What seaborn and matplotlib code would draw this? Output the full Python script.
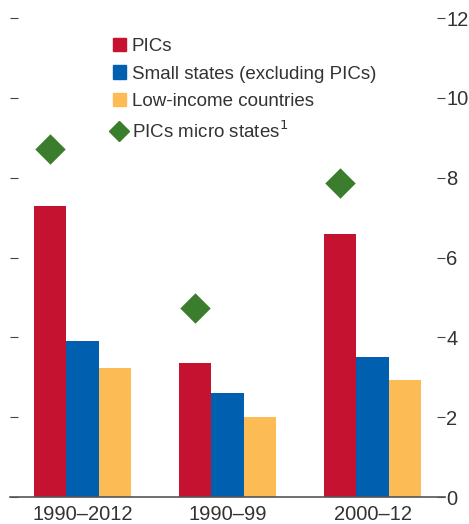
import numpy as np
import pandas as pd
import seaborn as sns
import matplotlib.pyplot as plt
from matplotlib.lines import Line2D
from matplotlib.patches import Patch

# data
periods = ["1990–2012", "1990–99", "2000–12"]
pics = [7.3, 3.35, 6.6]
small_states = [3.9, 2.6, 3.5]
low_income = [3.22, 2.0, 2.92]
micro_states = [8.72, 4.74, 7.88]

series_names = ["PICs", "Small states (excluding PICs)", "Low-income countries"]
colors = ["#c41230", "#0060af", "#fdbb55"]
diamond_color = "#3a7d2c"

df = pd.DataFrame({
    "period": periods * 3,
    "value": pics + small_states + low_income,
    "series": [series_names[0]] * 3 + [series_names[1]] * 3 + [series_names[2]] * 3,
})

sns.set_style("white")
plt.rcParams["font.family"] = ["Liberation Sans Narrow", "Liberation Sans", "DejaVu Sans"]

fig = plt.figure(figsize=(4.69, 5.24), dpi=100)
ax = fig.add_axes([0.021, 0.0515, 0.928, 0.914])

sns.barplot(data=df, x="period", y="value", hue="series", hue_order=series_names,
            palette=colors, width=0.67, saturation=1, linewidth=0, ax=ax, legend=False)

# diamonds sit on the PICs bars
xs = [b.get_x() + b.get_width() / 2 for b in ax.containers[0]]
ax.scatter(xs, micro_states, marker="D", s=240, color=diamond_color, zorder=5, linewidths=0)

ax.set_xlim(-0.5, 2.5)
ax.set_ylim(0, 12)
ax.set_yticks(np.arange(0, 13, 2))
ax.set_xlabel("")
ax.set_ylabel("")

for s in ["top", "left", "right"]:
    ax.spines[s].set_visible(False)
ax.spines["bottom"].set_color("#555555")
ax.spines["bottom"].set_linewidth(1.2)

ax.tick_params(axis="y", which="both", left=True, right=True, labelleft=False, labelright=True,
               direction="in", length=6, width=0.8, color="#444444", pad=1,
               labelsize=14.5, labelcolor="#333333")
ax.tick_params(axis="x", bottom=False, labelsize=14.5, labelcolor="#333333", pad=2)

handles = [Patch(color=c) for c in colors]
handles.append(Line2D([], [], marker="D", color=diamond_color, linestyle="", markersize=10.5))
labels = series_names + ["PICs micro states$^1$"]
ax.legend(handles, labels, loc="upper left", bbox_to_anchor=(0.215, 0.978), frameon=False,
          fontsize=13.5, handlelength=0.7, handleheight=0.7, handletextpad=0.3,
          labelspacing=0.55, borderpad=0, labelcolor="#333333")

fig.savefig("out.png", dpi=100)
